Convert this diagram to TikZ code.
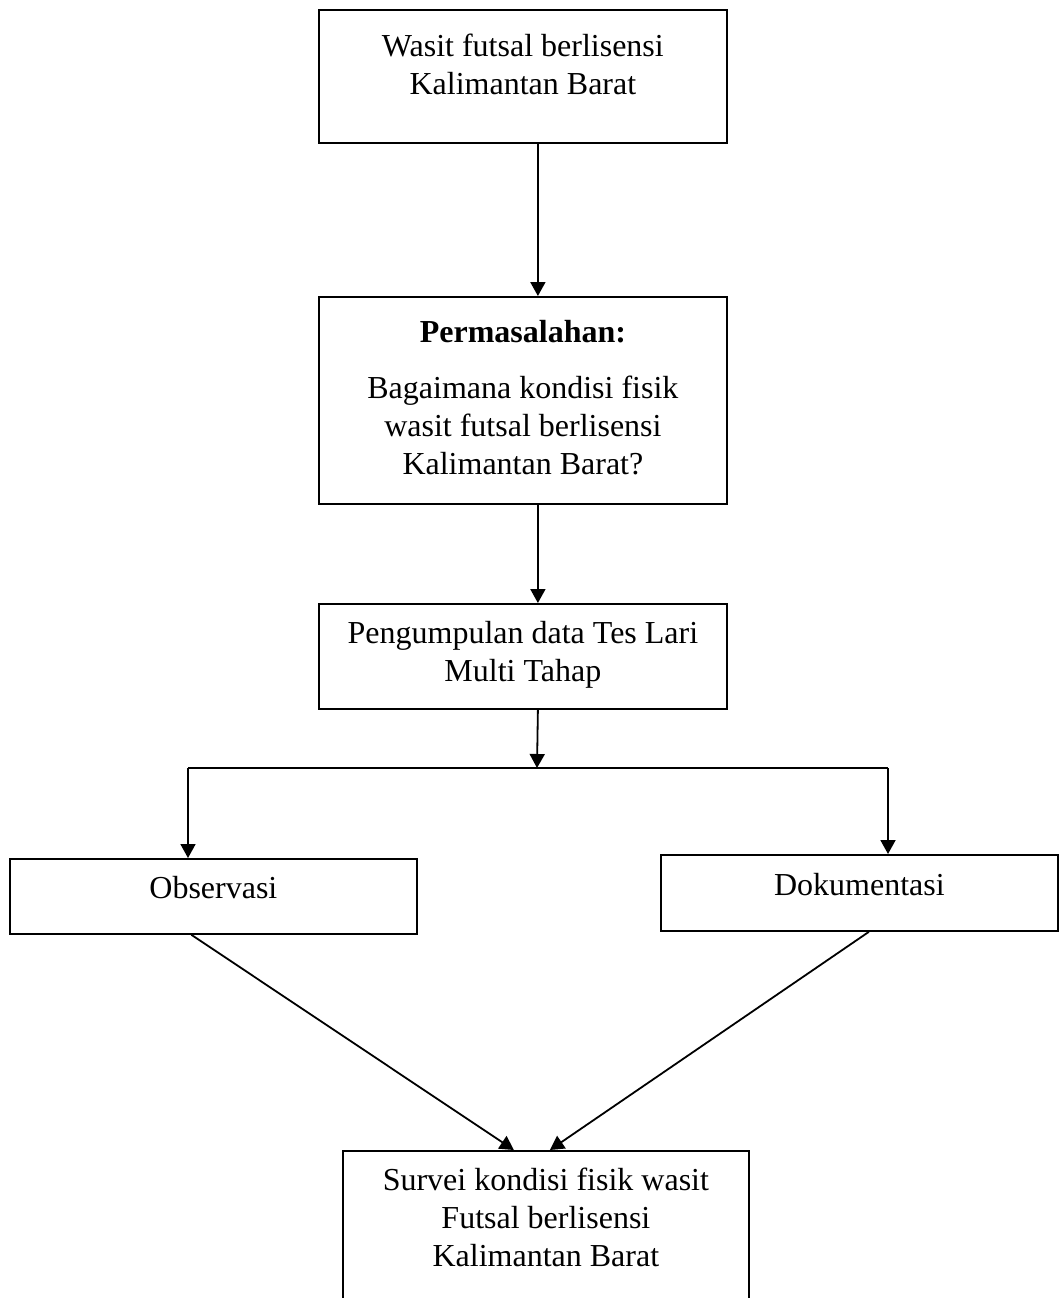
\documentclass[tikz,border=0pt]{standalone}
\usepackage{fontspec}
\setmainfont{Liberation Serif}
\usetikzlibrary{arrows.meta}

\newcommand{\isi}[4]{\parbox[c][#2][t]{#1}{\centering\vspace*{#3}#4}}

\begin{document}
\begin{tikzpicture}[x=1pt,y=-1pt,
  kotak/.style={draw,line width=1.8pt,inner sep=0pt,anchor=north west,
                font=\fontsize{32}{38}\selectfont},
  garis/.style={line width=1.8pt},
  panah/.style={line width=1.8pt,-{Triangle[length=14pt,width=15pt]}}]
  \useasboundingbox (0,0) rectangle (1059,1298);
  \clip (0,0) rectangle (1059,1298);

  \node[kotak] (wasit)   at (318,9)    {\isi{408pt}{133pt}{20pt}{\strut Wasit futsal berlisensi\\Kalimantan Barat}};
  \node[kotak] (masalah) at (318,296)  {\isi{408pt}{207pt}{19.4pt}{\strut\textbf{Permasalahan:}\\[18pt]Bagaimana kondisi fisik\\wasit futsal berlisensi\\Kalimantan Barat?}};
  \node[kotak] (data)    at (318,603)  {\isi{408pt}{105pt}{13.4pt}{\strut Pengumpulan data Tes Lari\\Multi Tahap}};
  \node[kotak] (obs)     at (9,858)    {\isi{407pt}{75pt}{13.4pt}{\strut Observasi}};
  \node[kotak] (dok)     at (660,854)  {\isi{397pt}{76pt}{14.4pt}{\strut Dokumentasi}};
  \node[kotak] (survei)  at (342,1150) {\isi{406pt}{170pt}{13.4pt}{\strut Survei kondisi fisik wasit\\Futsal berlisensi\\Kalimantan Barat}};

% cabang ke dua teknik pengumpulan data
  \coordinate (cabang) at (537,768);
  \coordinate (kiri)   at (188,768);
  \coordinate (kanan)  at (888,768);

  \draw[panah] ([xshift=15pt]wasit.south)   -- ([xshift=15pt]masalah.north);
  \draw[panah] ([xshift=15pt]masalah.south) -- ([xshift=15pt]data.north);
  \draw[panah] ([xshift=15pt]data.south)    -- (cabang);
  \draw[garis] (kiri) -- (kanan);
  \draw[panah] (kiri)  -- (kiri |- obs.north);
  \draw[panah] (kanan) -- (kanan |- dok.north);
  \draw[panah] ([xshift=-22pt]obs.south)  -- ([xshift=-32pt]survei.north);
  \draw[panah] ([xshift=9.5pt]dok.south)  -- ([xshift=4pt]survei.north);
\end{tikzpicture}
\end{document}
